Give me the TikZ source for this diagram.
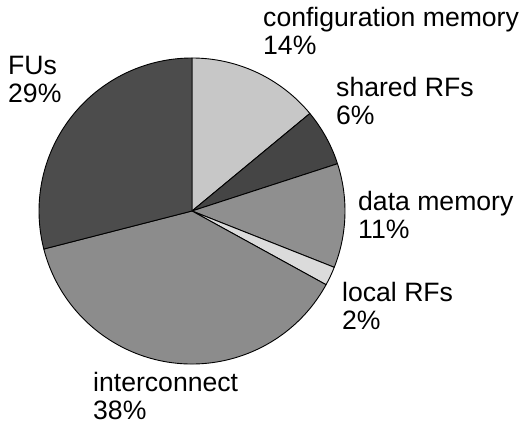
\documentclass[tikz,border=0pt]{standalone}
\usepackage{fontspec}
\setmainfont{Liberation Sans}
\usetikzlibrary{positioning}
\definecolor{cfggray}{gray}{0.78}
\definecolor{shrgray}{gray}{0.27}
\definecolor{datgray}{gray}{0.56}
\definecolor{locgray}{gray}{0.86}
\definecolor{intgray}{gray}{0.55}
\definecolor{fugray}{gray}{0.30}
\tikzset{
    slice/.style = {draw=black, line width=0.9pt, line join=round},
    lbl/.style = {anchor=base west, align=left, inner sep=0pt, font=\fontsize{26.6}{28}\selectfont},
}

\begin{document}
\begin{tikzpicture}[x=1pt,y=1pt]
\useasboundingbox (0,0) rectangle (523,426);
\coordinate (o) at (192,215);
%
\foreach \a/\b/\c in {90/39.6/cfggray, 39.6/18/shrgray, 18/-21.6/datgray,
                      -21.6/-28.8/locgray, -28.8/-165.6/intgray, -165.6/-270/fugray}
  \filldraw[slice, fill=\c] (o) -- ++(\a:153) arc[start angle=\a, end angle=\b, radius=153] -- cycle;
%
\node[lbl] (cfg) at (263,371) {configuration memory\\14\%};
\node[lbl] (shr) at (336,301) {shared RFs\\6\%};
\node[lbl] (dat) at (358,187) {data memory\\11\%};
\node[lbl] (loc) at (342,96) {local RFs\\2\%};
\node[lbl] (int) at (93,6) {interconnect\\38\%};
\node[lbl] (fu) at (8,323) {FUs\\29\%};

\end{tikzpicture}
\end{document}
